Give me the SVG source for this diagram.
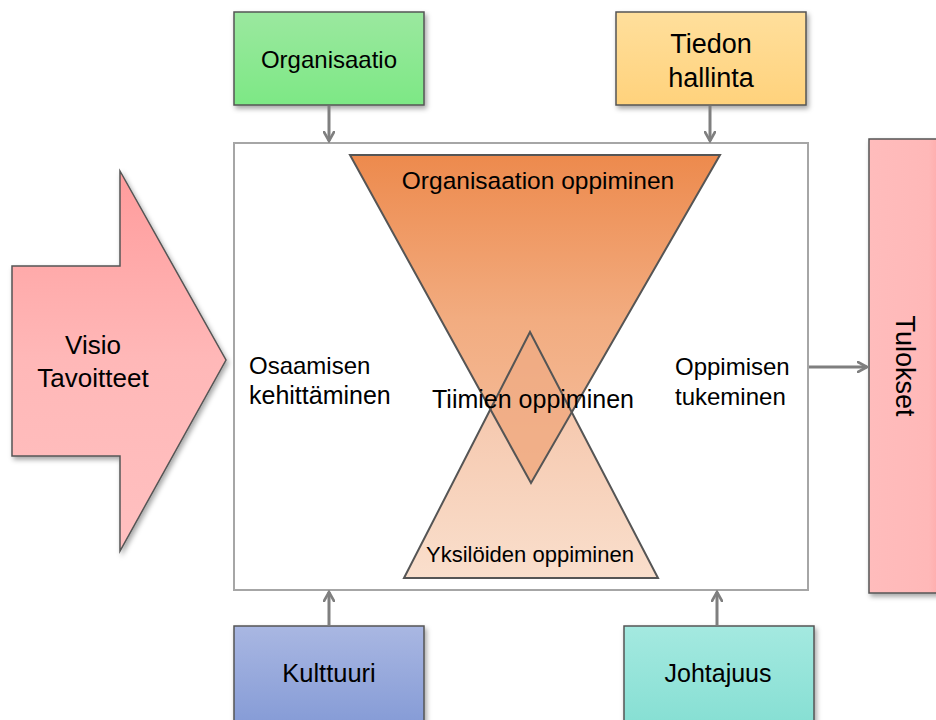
<svg xmlns="http://www.w3.org/2000/svg" width="936" height="720" viewBox="0 0 936 720">
<style>
text{font-family:"Liberation Sans",Arial,sans-serif;fill:#000;}
.lbl{font-size:24px;text-anchor:middle;}
.side{font-size:24px;}
.box{stroke:#555;stroke-width:1.5;}
.conn{stroke:#7f7f7f;stroke-width:3;fill:none;}
.tri{fill:none;stroke:#555;stroke-width:2;}
</style>
<defs>
<filter id="sh" x="-10%" y="-10%" width="130%" height="130%">
<feDropShadow dx="2" dy="3" stdDeviation="2.5" flood-color="#000" flood-opacity="0.35"/>
</filter>
<linearGradient id="gGreen" x1="0" y1="0" x2="0" y2="1"><stop offset="0" stop-color="#9be89f"/><stop offset="1" stop-color="#7de885"/></linearGradient>
<linearGradient id="gYellow" x1="0" y1="0" x2="0" y2="1"><stop offset="0" stop-color="#ffdf9c"/><stop offset="1" stop-color="#ffd27c"/></linearGradient>
<linearGradient id="gBlue" x1="0" y1="0" x2="0" y2="1"><stop offset="0" stop-color="#a9b7e2"/><stop offset="1" stop-color="#859bd6"/></linearGradient>
<linearGradient id="gTeal" x1="0" y1="0" x2="0" y2="1"><stop offset="0" stop-color="#a4e9e0"/><stop offset="1" stop-color="#86dfd3"/></linearGradient>
<linearGradient id="gPink" x1="0" y1="0" x2="0" y2="1"><stop offset="0" stop-color="#ff9c9c"/><stop offset="0.5" stop-color="#ffb8b8"/><stop offset="1" stop-color="#ffc0c0"/></linearGradient>
<linearGradient id="gTul" x1="0" y1="0" x2="1" y2="0"><stop offset="0" stop-color="#ffbcbc"/><stop offset="0.75" stop-color="#ffb8b8"/><stop offset="1" stop-color="#ff9f9f"/></linearGradient>
<linearGradient id="gInv" x1="0" y1="0" x2="0" y2="1"><stop offset="0" stop-color="#ed8a4d"/><stop offset="0.5" stop-color="#f2ac80"/><stop offset="1" stop-color="#f5c0a0"/></linearGradient>
<linearGradient id="gUp" x1="0" y1="0" x2="0" y2="1"><stop offset="0" stop-color="#f3b898"/><stop offset="1" stop-color="#f9dcc8"/></linearGradient>
<marker id="ah" viewBox="0 0 12 12" refX="10" refY="6" markerWidth="12" markerHeight="12" markerUnits="userSpaceOnUse" orient="auto">
<path d="M1,1 L10,6 L1,11" fill="none" stroke="#7f7f7f" stroke-width="2.6" stroke-linecap="round"/>
</marker>
</defs>
<rect width="936" height="720" fill="#fff"/>

<g id="visio">
<path d="M12,266 L120,266 L120,171 L226,360 L120,551 L120,456 L12,456 Z" fill="url(#gPink)" class="box" filter="url(#sh)"/>
<text class="lbl" x="93" y="354" style="font-size:26px">Visio</text>
<text class="lbl" x="93" y="387" style="font-size:26px">Tavoitteet</text>
</g>

<g id="kehys">
<rect x="234" y="143" width="574" height="447" fill="#fff" stroke="#a6a6a6" stroke-width="2"/>
</g>

<g id="organisaation-oppiminen">
<path d="M350,155 L720,155 L531,483 Z" fill="url(#gInv)"/>
</g>
<g id="yksiloiden-oppiminen">
<path d="M530,332 L658,578 L404,578 Z" fill="url(#gUp)" fill-opacity="0.92"/>
<path d="M530,332 L571,412 L531,483 L490,409 Z" fill="#efa77c" fill-opacity="0.75"/>
</g>
<g id="triangle-edges">
<path class="tri" d="M350,155 L720,155 L531,483 Z"/>
<path class="tri" d="M530,332 L658,578 L404,578 Z"/>
</g>
<text x="530" y="562" style="font-size:22px;text-anchor:middle;">Yksilöiden oppiminen</text>
<text class="lbl" x="538" y="189" style="font-size:24.5px">Organisaation oppiminen</text>
<g id="tiimien-oppiminen">
<text class="lbl" x="533" y="408" style="font-size:25px">Tiimien oppiminen</text>
</g>

<g id="osaamisen">
<text class="side" x="249" y="374">Osaamisen</text>
<text class="side" x="249" y="404" style="font-size:25px">kehittäminen</text>
</g>
<g id="oppimisen-tukeminen">
<text class="side" x="675" y="375">Oppimisen</text>
<text class="side" x="675" y="405">tukeminen</text>
</g>

<g id="organisaatio">
<rect x="234" y="12" width="190" height="93" fill="url(#gGreen)" class="box" filter="url(#sh)"/>
<text class="lbl" x="329" y="68">Organisaatio</text>
</g>
<g id="tiedon-hallinta">
<rect x="616" y="12" width="190" height="93" fill="url(#gYellow)" class="box" filter="url(#sh)"/>
<text class="lbl" x="711" y="53" style="font-size:27px">Tiedon</text>
<text class="lbl" x="711" y="87" style="font-size:27px">hallinta</text>
</g>
<g id="kulttuuri">
<rect x="234" y="626" width="190" height="100" fill="url(#gBlue)" class="box" filter="url(#sh)"/>
<text class="lbl" x="329" y="682" style="font-size:25.5px">Kulttuuri</text>
</g>
<g id="johtajuus">
<rect x="624" y="626" width="190" height="100" fill="url(#gTeal)" class="box" filter="url(#sh)"/>
<text class="lbl" x="718" y="682" style="font-size:25px">Johtajuus</text>
</g>
<g id="tulokset">
<rect x="869" y="139" width="80" height="454" fill="url(#gTul)" class="box" filter="url(#sh)"/>
<text class="lbl" transform="translate(896,366) rotate(90)" style="font-size:27px">Tulokset</text>
</g>

<g id="connectors">
<line class="conn" x1="329" y1="106" x2="329" y2="141" marker-end="url(#ah)"/>
<line class="conn" x1="710" y1="106" x2="710" y2="141" marker-end="url(#ah)"/>
<line class="conn" x1="329" y1="625" x2="329" y2="592" marker-end="url(#ah)"/>
<line class="conn" x1="717" y1="625" x2="717" y2="592" marker-end="url(#ah)"/>
<line class="conn" x1="809" y1="367" x2="867" y2="367" marker-end="url(#ah)"/>
</g>
</svg>
